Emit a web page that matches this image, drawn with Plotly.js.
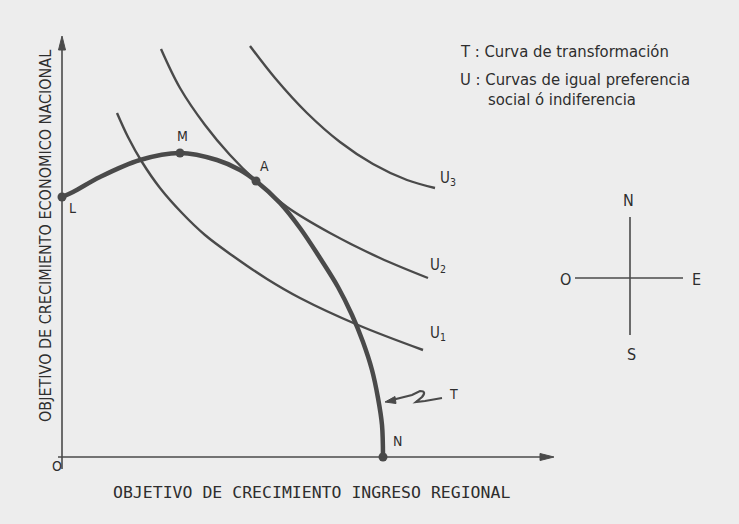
<!DOCTYPE html>
<html>
<head>
<meta charset="utf-8">
<script src="https://cdn.plot.ly/plotly-3.0.1.min.js"></script>
<style>html,body{margin:0;padding:0;background:#ededed;}#chart{width:739px;height:524px;}</style>
</head>
<body>
<div id="chart"></div>
<script>
// Transformation curve T (L -> M -> A -> N), units: regional income (x), national growth (y)
const curveT_x = [0, 11, 38, 78, 118, 155, 178, 194, 218, 238, 258, 276, 290, 301, 310, 316, 320, 321];
const curveT_y = [260, 265, 280, 297, 304, 297, 287, 276, 254, 229, 199, 170, 142, 115, 87, 59, 32, 0];
// Indifference curves
const curveU1_x = [55, 66, 80, 98, 120, 143, 171, 205, 238, 296, 361];
const curveU1_y = [344, 320, 295, 269, 244, 222, 201, 178, 159, 132, 107];
const curveU2_x = [99, 118, 143, 168, 194, 225, 268, 318, 366];
const curveU2_y = [408, 369, 332, 302, 276, 250, 224, 199, 179];
const curveU3_x = [188, 213, 245, 278, 311, 345, 373];
const curveU3_y = [411, 379, 344, 315, 293, 277, 269];
// Marked points
const pointNames = ['L', 'M', 'A', 'N'];
const pointX = [0, 118, 194, 321];
const pointY = [260, 304, 276, 0];
// Texts
const xTitle = 'OBJETIVO DE CRECIMIENTO INGRESO REGIONAL';
const yTitle = 'OBJETIVO DE CRECIMIENTO ECONOMICO NACIONAL';
const legendLines = ['T : Curva de transformación', 'U : Curvas de igual preferencia', 'social ó indiferencia'];
const curveLabels = ['U<sub>1</sub>', 'U<sub>2</sub>', 'U<sub>3</sub>', 'T'];
const compassLabels = ['N', 'O', 'E', 'S'];

const ink = '#4a4a4a';
const textInk = '#2e2e2e';
const narrow = 'Liberation Sans Narrow, DejaVu Sans Condensed, Arial Narrow, sans-serif';

function curve(x, y, w) {
  return {x: x, y: y, type: 'scatter', mode: 'lines', line: {color: ink, width: w, shape: 'spline', smoothing: 1},
          hoverinfo: 'skip', showlegend: false};
}
const traces = [
  curve(curveU1_x, curveU1_y, 2.4),
  curve(curveU2_x, curveU2_y, 2.4),
  curve(curveU3_x, curveU3_y, 2.4),
  curve(curveT_x, curveT_y, 4.5),
  {x: pointX, y: pointY, type: 'scatter', mode: 'markers', marker: {color: ink, size: 9},
   hoverinfo: 'skip', showlegend: false}
];

const ann = [];
function txt(x, y, text, size, font, extra) {
  ann.push(Object.assign({x: x, y: y, xref: 'x', yref: 'y', text: text, showarrow: false,
    font: {family: font || narrow, size: size || 15, color: textInk}}, extra || {}));
}
// point labels
const ptLabelPos = [[10, 249], [120, 321], [202, 291], [335, 16]];
pointNames.forEach((n, i) => txt(ptLabelPos[i][0], ptLabelPos[i][1], n, 14));
txt(-5, -9, 'O', 14);
// curve labels
txt(376, 124, curveLabels[0], 15);
txt(376, 192, curveLabels[1], 15);
txt(386, 279, curveLabels[2], 15);
txt(391, 63, curveLabels[3], 14);
// legend block
txt(396, 406, legendLines[0], 16.5, null, {xanchor: 'left'});
txt(396, 378, legendLines[1], 16.5, null, {xanchor: 'left'});
txt(424, 358, legendLines[2], 16.5, null, {xanchor: 'left'});
// compass
txt(566, 257, compassLabels[0], 16);
txt(503, 178, compassLabels[1], 16);
txt(634, 178, compassLabels[2], 16);
txt(569, 103, compassLabels[3], 16);
// axis titles
txt(249, -35, xTitle, 16.5, 'DejaVu Sans Mono, monospace');
txt(-17, 221, yTitle, 16, narrow, {textangle: -90});

const shapes = [
  {type: 'line', xref: 'x', yref: 'y', x0: -4, y0: 0, x1: 480, y1: 0, line: {color: ink, width: 1.6}},
  {type: 'line', xref: 'x', yref: 'y', x0: 0, y0: -12, x1: 0, y1: 409, line: {color: ink, width: 1.6}},
  {type: 'path', xref: 'x', yref: 'y', path: 'M 492 0 L 478 3.5 L 478 -3.5 Z', fillcolor: ink, line: {color: ink, width: 1}},
  {type: 'path', xref: 'x', yref: 'y', path: 'M 0 421 L -3.5 407 L 3.5 407 Z', fillcolor: ink, line: {color: ink, width: 1}},
  {type: 'line', xref: 'x', yref: 'y', x0: 568, y0: 240, x1: 568, y1: 122, line: {color: ink, width: 1.6}},
  {type: 'line', xref: 'x', yref: 'y', x0: 513, y0: 179, x1: 621, y1: 179, line: {color: ink, width: 1.6}},
  {type: 'path', xref: 'x', yref: 'y', path: 'M 330 57 L 350 62 L 358 66 Q 365 66 360 60 L 354 55 L 363 56 L 380 59',
   line: {color: ink, width: 2.2}},
  {type: 'path', xref: 'x', yref: 'y', path: 'M 323 55 L 333 60.5 L 334 53.5 Z', fillcolor: ink, line: {color: ink, width: 1}}
];

const layout = {
  width: 739, height: 524,
  margin: {l: 0, r: 0, t: 0, b: 0},
  paper_bgcolor: '#ededed', plot_bgcolor: '#ededed',
  xaxis: {range: [-62, 677], visible: false, fixedrange: true},
  yaxis: {range: [-67, 457], visible: false, fixedrange: true},
  annotations: ann, shapes: shapes, showlegend: false
};
Plotly.newPlot('chart', traces, layout, {staticPlot: true, displayModeBar: false});
</script>
</body>
</html>
